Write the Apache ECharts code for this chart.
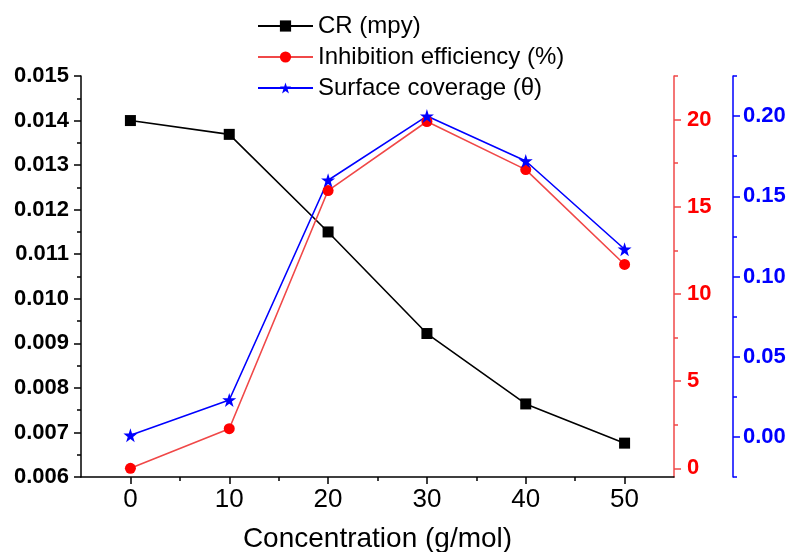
<!DOCTYPE html>
<html>
<head>
<meta charset="utf-8">
<script src="https://cdn.jsdelivr.net/npm/echarts@6/dist/echarts.min.js"></script>
<style>
  html, body { margin: 0; padding: 0; background: #fff; }
  #chart { width: 790px; height: 552px; }
</style>
</head>
<body>
<div id="chart"></div>
<script>
// concentration values (g/mol)
const concentration = [0, 10, 20, 30, 40, 50];
// corrosion rate, left axis
const crValues = [0.01400, 0.01369, 0.01150, 0.00922, 0.00764, 0.00676];
// inhibition efficiency (%), red axis
const ieValues = [0, 2.27, 15.93, 19.89, 17.13, 11.69];
// surface coverage, blue axis
const thetaValues = [0.001, 0.023, 0.160, 0.200, 0.172, 0.117];

const xTicks = [0, 10, 20, 30, 40, 50];
const xMinorTicks = [5, 15, 25, 35, 45];
const ieTicks = [0, 5, 10, 15, 20];
const ieMinorTicks = [2.5, 7.5, 12.5, 17.5, 22.5];
const thetaTicks = [0, 0.05, 0.10, 0.15, 0.20];
const thetaMinorTicks = [-0.025, 0.025, 0.075, 0.125, 0.175, 0.225];

const FONT = "'Liberation Sans', Arial, sans-serif";
const RED = '#ff0000';
const RED_LINE = '#f04848';
const BLUE = '#0000ff';
const STAR = 'path://M12,0 L14.8,8.6 L24,8.6 L16.6,14 L19.4,22.8 L12,17.4 L4.6,22.8 L7.4,14 L0,8.6 L9.2,8.6 Z';

function pairs(ys) {
  return concentration.map(function (x, i) { return [x, ys[i]]; });
}

const chart = echarts.init(document.getElementById('chart'));

const option = {
  animation: false,
  textStyle: { fontFamily: FONT },
  grid: { left: 81, right: 116, top: 76, bottom: 75, containLabel: false, outerBoundsMode: 'none' },
  legend: {
    orient: 'vertical',
    left: 252,
    top: 9,
    itemWidth: 55,
    itemHeight: 14,
    itemGap: 7,
    textStyle: { fontSize: 24, color: '#000', fontFamily: FONT, lineHeight: 24 },
    data: ['CR (mpy)', 'Inhibition efficiency (%)', 'Surface coverage (\u03b8)']
  },
  xAxis: [
    {
      type: 'value', min: -5, max: 55,
      name: 'Concentration (g/mol)',
      nameLocation: 'middle',
      nameGap: 48,
      nameTextStyle: { fontSize: 28, color: '#000', fontFamily: FONT },
      axisLine: { onZero: false, lineStyle: { color: '#000', width: 1.5 } },
      axisTick: { customValues: xTicks, length: 7, lineStyle: { color: '#000', width: 1.5 } },
      axisLabel: { customValues: xTicks, fontSize: 26, color: '#000', margin: 10 },
      splitLine: { show: false }
    },
    {
      type: 'value', min: -5, max: 55, position: 'bottom',
      axisLine: { show: false, onZero: false },
      axisTick: { customValues: xMinorTicks, length: 4, lineStyle: { color: '#000', width: 1.5 } },
      axisLabel: { show: false },
      splitLine: { show: false }
    }
  ],
  yAxis: [
    {
      type: 'value', position: 'left', min: 0.006, max: 0.015, interval: 0.001,
      axisLine: { show: true, onZero: false, lineStyle: { color: '#000', width: 1.5 } },
      axisTick: { show: true, length: 7, lineStyle: { color: '#000', width: 1.5 } },
      minorTick: { show: true, splitNumber: 2, length: 4, lineStyle: { color: '#000', width: 1.5 } },
      axisLabel: {
        fontSize: 22, fontWeight: 'bold', color: '#000', margin: 12,
        formatter: function (v) { return v.toFixed(3); }
      },
      splitLine: { show: false }
    },
    {
      type: 'value', position: 'right', min: -0.5, max: 22.5,
      axisLine: { show: true, onZero: false, lineStyle: { color: RED_LINE, width: 1.5 } },
      axisTick: { show: true, customValues: ieTicks, length: 7, lineStyle: { color: RED_LINE, width: 1.5 } },
      axisLabel: { customValues: ieTicks, fontSize: 22, fontWeight: 'bold', color: RED, margin: 13 },
      splitLine: { show: false }
    },
    {
      type: 'value', position: 'right', min: -0.5, max: 22.5,
      axisLine: { show: false, onZero: false },
      axisTick: { show: true, customValues: ieMinorTicks, length: 4, lineStyle: { color: RED_LINE, width: 1.5 } },
      axisLabel: { show: false },
      splitLine: { show: false }
    },
    {
      type: 'value', position: 'right', offset: 59, min: -0.025, max: 0.225,
      axisLine: { show: true, onZero: false, lineStyle: { color: BLUE, width: 1.5 } },
      axisTick: { show: true, customValues: thetaTicks, length: 7, lineStyle: { color: BLUE, width: 1.5 } },
      axisLabel: {
        customValues: thetaTicks, fontSize: 22, fontWeight: 'bold', color: BLUE, margin: 10,
        formatter: function (v) { return v.toFixed(2); }
      },
      splitLine: { show: false }
    },
    {
      type: 'value', position: 'right', offset: 59, min: -0.025, max: 0.225,
      axisLine: { show: false, onZero: false },
      axisTick: { show: true, customValues: thetaMinorTicks, length: 4, lineStyle: { color: BLUE, width: 1.5 } },
      axisLabel: { show: false },
      splitLine: { show: false }
    }
  ],
  series: [
    {
      name: 'CR (mpy)', type: 'line', yAxisIndex: 0,
      symbol: 'rect', symbolSize: 11,
      itemStyle: { color: '#000' },
      lineStyle: { color: '#000', width: 1.6 },
      data: pairs(crValues)
    },
    {
      name: 'Inhibition efficiency (%)', type: 'line', yAxisIndex: 1,
      symbol: 'circle', symbolSize: 11,
      itemStyle: { color: RED },
      lineStyle: { color: RED_LINE, width: 1.6 },
      data: pairs(ieValues)
    },
    {
      name: 'Surface coverage (\u03b8)', type: 'line', yAxisIndex: 3,
      symbol: STAR, symbolSize: 14,
      itemStyle: { color: BLUE },
      lineStyle: { color: BLUE, width: 1.6 },
      data: pairs(thetaValues)
    }
  ]
};

chart.setOption(option);
</script>
</body>
</html>
